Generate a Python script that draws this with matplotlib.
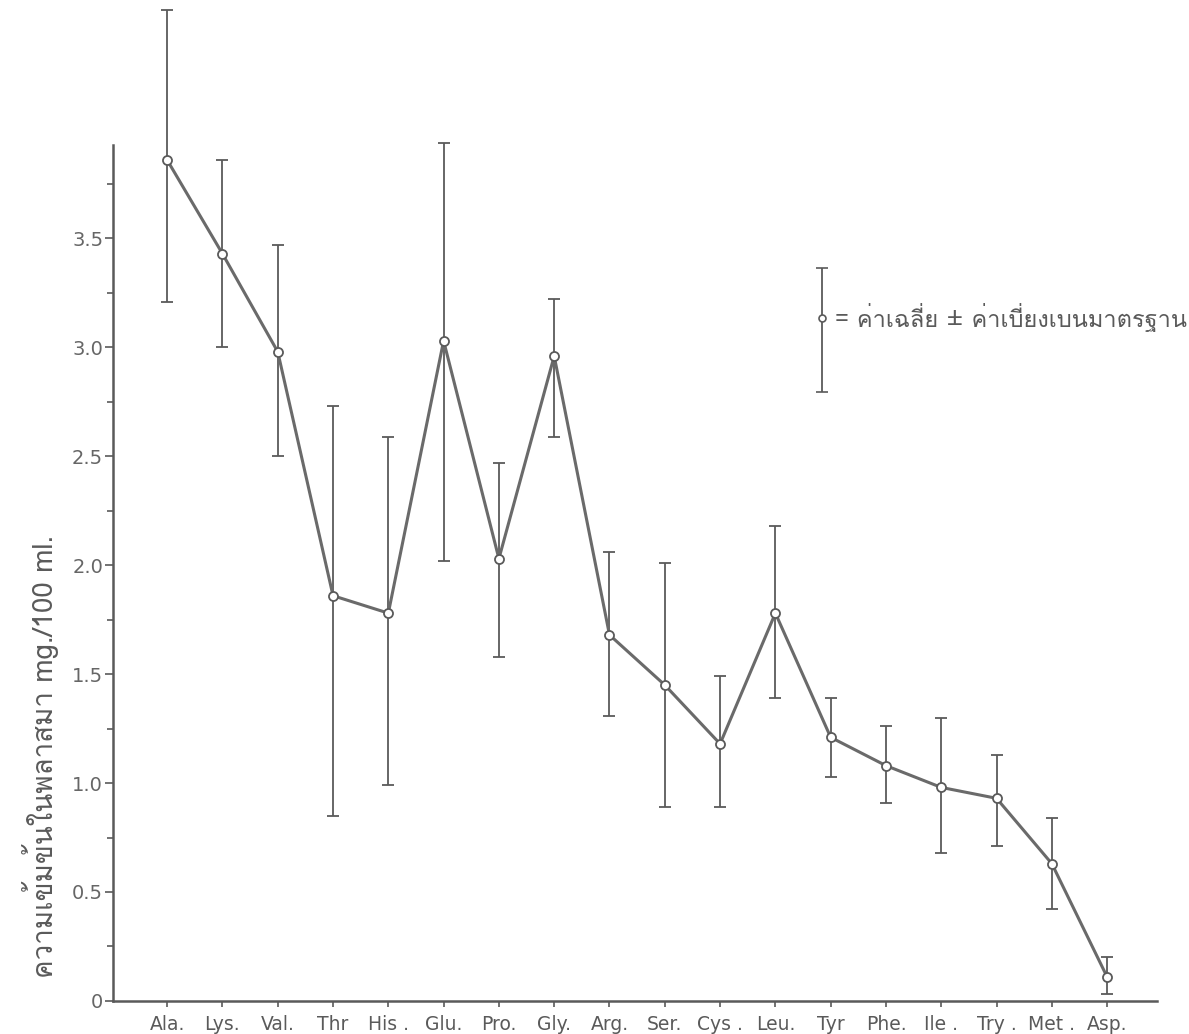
import matplotlib
matplotlib.use("Agg")
import matplotlib.pyplot as plt
from matplotlib import font_manager
from matplotlib.ft2font import FT2Font
from matplotlib.ticker import MultipleLocator

###
# Data
###

amino_acids = ["Ala.", "Lys.", "Val.", "Thr", "His .", "Glu.", "Pro.", "Gly.", "Arg.",
               "Ser.", "Cys .", "Leu.", "Tyr", "Phe.", "Ile .", "Try .", "Met .", "Asp."]

# mean plasma concentration, mg./100 ml.
mean_conc = [3.86, 3.43, 2.98, 1.86, 1.78, 3.03, 2.03, 2.96, 1.68,
             1.45, 1.18, 1.78, 1.21, 1.08, 0.98, 0.93, 0.63, 0.11]

# ends of the mean +- SD bars as drawn in the scan
bar_top = [4.55, 3.86, 3.47, 2.73, 2.59, 3.94, 2.47, 3.22, 2.06,
           2.01, 1.49, 2.18, 1.39, 1.26, 1.30, 1.13, 0.84, 0.20]
bar_bottom = [3.21, 3.00, 2.50, 0.85, 0.99, 2.02, 1.58, 2.59, 1.31,
              0.89, 0.89, 1.39, 1.03, 0.91, 0.68, 0.71, 0.42, 0.03]

ylabel_text = "ความเข้มข้นในพลาสมา mg./100 ml."
legend_text = "= ค่าเฉลี่ย ± ค่าเบี่ยงเบนมาตรฐาน"


###
# Find a font that has Thai glyphs
###

def find_thai_font():
    for fe in font_manager.fontManager.ttflist:
        try:
            cmap = FT2Font(fe.fname).get_charmap()
        except Exception:
            continue
        if 0x0E04 in cmap and 0x0E40 in cmap:
            return fe.name
    return "DejaVu Sans"

thai_font = find_thai_font()
thai_family = [thai_font, "DejaVu Sans"]

INK = "#5a5a5a"

###
# Plotting
###

fig = plt.figure(figsize=(11.89, 10.34), dpi=100)
ax = fig.add_axes([0.095, 0.032, 0.878, 0.828])

x = list(range(len(amino_acids)))
err_low = [m - b for m, b in zip(mean_conc, bar_bottom)]
err_high = [t - m for m, t in zip(mean_conc, bar_top)]

# error bars, allowed to run above the axis top like the original
eb = ax.errorbar(x, mean_conc, yerr=[err_low, err_high], fmt="none", ecolor=INK,
                 elinewidth=1.3, capsize=4.5, capthick=1.3, zorder=2)
for art in eb.lines[1] + eb.lines[2]:
    art.set_clip_on(False)

ax.plot(x, mean_conc, color="#6a6a6a", lw=2.2, zorder=3)
ax.plot(x, mean_conc, "o", ms=6.5, mfc="white", mec=INK, mew=1.3, zorder=4)

ax.set_xlim(-0.98, 17.9)
ax.set_ylim(0, 3.93)

ax.spines["top"].set_visible(False)
ax.spines["right"].set_visible(False)
for sp in ("left", "bottom"):
    ax.spines[sp].set_color(INK)
    ax.spines[sp].set_linewidth(1.8)

ax.set_xticks(x)
ax.set_xticklabels(amino_acids, family=["Liberation Sans Narrow", "DejaVu Sans"],
                   fontsize=13.5, color=INK)
ax.tick_params(axis="x", length=4, width=1.2, color=INK, pad=6)

ax.yaxis.set_minor_locator(MultipleLocator(0.25))
ax.set_yticks([0, 0.5, 1.0, 1.5, 2.0, 2.5, 3.0, 3.5])
ax.set_yticklabels(["0", "0.5", "1.0", "1.5", "2.0", "2.5", "3.0", "3.5"],
                   fontsize=14, color="#666666")
ax.tick_params(axis="y", which="major", length=6, width=1.2, color=INK, pad=1)
ax.tick_params(axis="y", which="minor", length=4, width=1.2, color=INK)

ax.set_ylabel(ylabel_text, family=thai_family, fontsize=20, color=INK)
ax.yaxis.set_label_coords(-0.052, 0.285)

# legend key drawn by hand: vertical bar with caps and an open circle
ax.errorbar([0.679], [0.798], yerr=[[0.087], [0.058]], fmt="o", ms=5,
            mfc="white", mec=INK, mew=1.2, ecolor=INK, elinewidth=1.3,
            capsize=4.5, capthick=1.3, transform=ax.transAxes, clip_on=False)
ax.text(0.692, 0.798, legend_text, transform=ax.transAxes, family=thai_family,
        fontsize=17, color=INK, va="center", ha="left")

plt.savefig("out.png", dpi=100)
